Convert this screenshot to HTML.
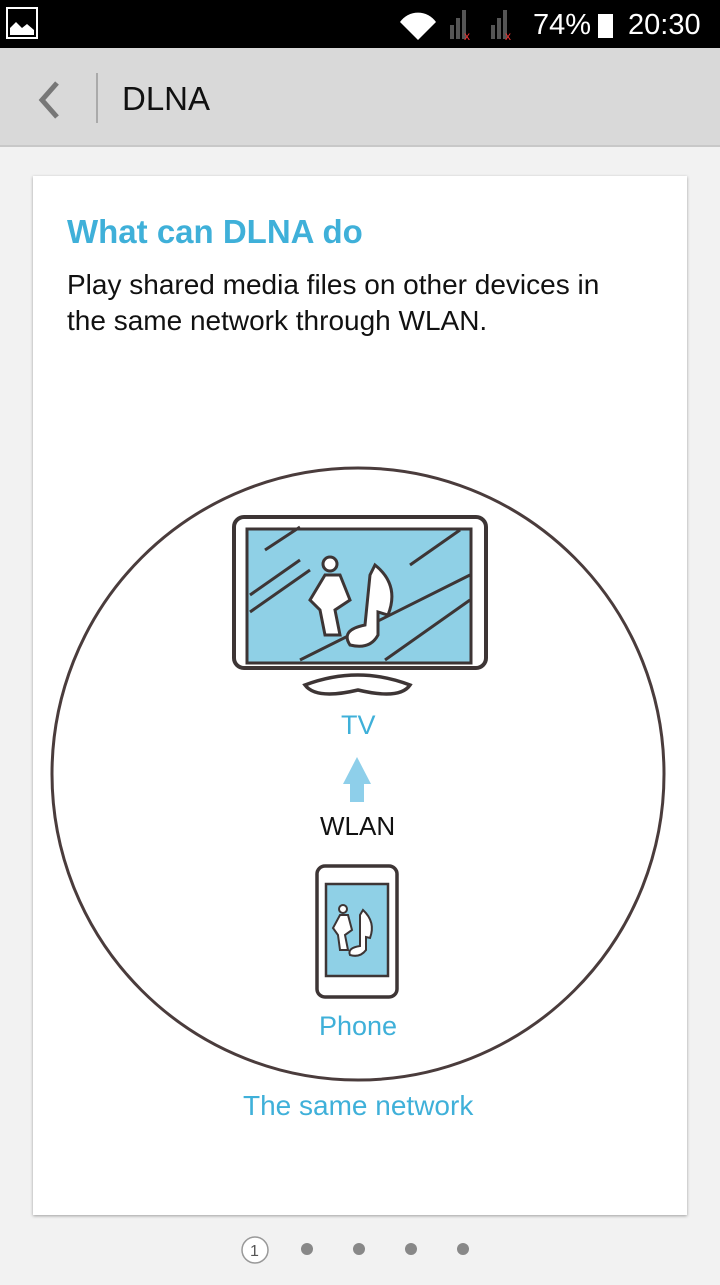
<!DOCTYPE html>
<html><head><meta charset="utf-8"><style>
body{margin:0;width:720px;height:1280px;background:#f2f2f2;font-family:"Liberation Sans",sans-serif;position:relative;overflow:hidden}
.sb{position:absolute;left:0;top:0;width:720px;height:48px;background:#000;color:#fff}
.tb{position:absolute;left:0;top:48px;width:720px;height:97px;background:#d9d9d9;border-bottom:2px solid #c8c8c8}
.card{position:absolute;left:33px;top:176px;width:654px;height:1039px;background:#fff;box-shadow:0 1px 3px rgba(0,0,0,.35)}
.t{position:absolute;font-size:26px;white-space:nowrap}
</style></head><body>
<div class="sb">
<svg width="720" height="48" style="position:absolute;left:0;top:0">
<rect x="7" y="8" width="30" height="30" fill="none" stroke="#fff" stroke-width="2"/>
<path d="M10 35 L10 28 L16 22 L22 28 L27 24 L34 30 L34 35Z" fill="#fff"/>
<path d="M400 22 A22 22 0 0 1 436 22 L418 40Z" fill="#fff"/>
<rect x="450" y="25" width="4" height="14" fill="#555"/><rect x="456" y="18" width="4" height="21" fill="#555"/><rect x="462" y="10" width="4" height="29" fill="#555"/>
<text x="464" y="40" fill="#e33" font-size="12">x</text>
<rect x="491" y="25" width="4" height="14" fill="#555"/><rect x="497" y="18" width="4" height="21" fill="#555"/><rect x="503" y="10" width="4" height="29" fill="#555"/>
<text x="505" y="40" fill="#e33" font-size="12">x</text>
<rect x="598" y="14" width="15" height="24" fill="#fff"/>
</svg>
<div class="t" style="left:533px;top:9px;font-size:29px">74%</div>
<div class="t" style="left:628px;top:9px;font-size:29px">20:30</div>
</div>
<div class="tb">
<svg width="100" height="97" style="position:absolute;left:0;top:0"><path d="M57 35 L42 52 L57 69" fill="none" stroke="#777" stroke-width="5"/><line x1="97" y1="25" x2="97" y2="75" stroke="#aaa" stroke-width="2"/></svg>
<div class="t" style="left:122px;top:32px;font-size:33px;color:#111">DLNA</div>
</div>
<div class="card"></div>
<div class="t" style="left:67px;top:213px;font-size:33px;font-weight:bold;color:#3fb0d9">What can DLNA do</div>
<div class="t" style="left:67px;top:267px;line-height:36px;color:#111;font-size:28px">Play shared media files on other devices in<br>the same network through WLAN.</div>
<svg width="720" height="1280" style="position:absolute;left:0;top:0">
<circle cx="358" cy="774" r="306" fill="none" stroke="#4a3c3c" stroke-width="3"/>
<rect x="234" y="517" width="252" height="151" rx="10" fill="#fff" stroke="#3d3535" stroke-width="4"/>
<rect x="247" y="529" width="224" height="134" fill="#8fd0e6" stroke="#3d3535" stroke-width="3"/>
<g stroke="#3d3535" stroke-width="3" fill="none">
<line x1="265" y1="550" x2="300" y2="527"/><line x1="250" y1="595" x2="300" y2="560"/><line x1="250" y1="612" x2="310" y2="570"/>
<line x1="410" y1="565" x2="460" y2="530"/><line x1="300" y1="660" x2="470" y2="575"/><line x1="385" y1="660" x2="470" y2="600"/>
<path d="M305 685 Q358 665 410 685 Q400 700 358 690 Q316 700 305 685Z" stroke-width="3.5"/>
</g>
<g fill="#fff" stroke="#3d3535" stroke-width="3">
<circle cx="330" cy="564" r="7"/><path d="M325 575 L340 575 L350 600 L335 610 L340 635 L325 635 L320 610 L310 600Z"/>
<path d="M370 575 L375 565 Q400 585 388 615 L378 612 L378 635 Q370 650 350 645 Q340 630 365 625 Z"/>
</g>
<rect x="317" y="866" width="80" height="131" rx="8" fill="#fff" stroke="#3d3535" stroke-width="3.5"/>
<rect x="326" y="884" width="62" height="92" fill="#8fd0e6" stroke="#3d3535" stroke-width="2.5"/>
<g fill="#fff" stroke="#3d3535" stroke-width="2">
<circle cx="343" cy="909" r="4"/><path d="M340 915 L348 915 L352 930 L345 935 L348 950 L340 950 L338 935 L333 928Z"/>
<path d="M360 915 L363 910 Q376 922 370 938 L366 937 L366 950 Q360 958 350 955 Q347 948 360 946Z"/>
</g>
<path d="M350 784 L350 802 L364 802 L364 784 L371 784 L357 757 L343 784Z" fill="#8ecfea"/>
</svg>
<div class="t" style="left:341px;top:710px;color:#3fb0d9;font-size:27px">TV</div>
<div class="t" style="left:320px;top:811px;color:#111;font-size:26px">WLAN</div>
<div class="t" style="left:319px;top:1011px;color:#3fb0d9;font-size:27px">Phone</div>
<div class="t" style="left:243px;top:1090px;color:#3fb0d9;font-size:28px">The same network</div>
<svg width="720" height="60" style="position:absolute;left:0;top:1225px">
<circle cx="255" cy="25" r="13" fill="#fff" stroke="#999" stroke-width="1.5"/>
<text x="250" y="31" font-size="16" fill="#555" font-family="Liberation Sans">1</text>
<circle cx="307" cy="24" r="6" fill="#888"/><circle cx="359" cy="24" r="6" fill="#888"/><circle cx="411" cy="24" r="6" fill="#888"/><circle cx="463" cy="24" r="6" fill="#888"/>
</svg>
</body></html>
